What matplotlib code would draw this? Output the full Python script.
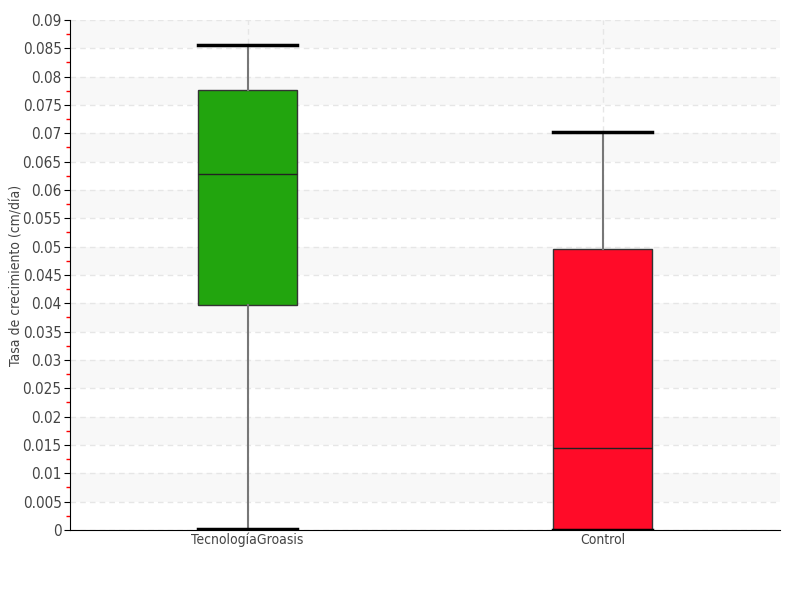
import numpy as np
import matplotlib
matplotlib.use("Agg")
import matplotlib.pyplot as plt

# data
groups = ["TecnologíaGroasis", "Control"]
whisker_low = [0.0002, 0.0]
q1 = [0.0397, 0.0]
medians = [0.0628, 0.0145]
q3 = [0.0776, 0.0496]
whisker_high = [0.0855, 0.0702]
box_colors = ["#22a50e", "#ff0b28"]

y_max = 0.09
y_step = 0.005

plt.rcParams["font.family"] = ["DejaVu Sans"]
plt.rcParams["font.stretch"] = "condensed"

fig = plt.figure(figsize=(8, 6), dpi=100)
ax = fig.add_axes([0.0875, 0.1167, 0.8875, 0.85])

# alternating bands
for lo in np.arange(y_step, y_max, 2 * y_step):
    ax.axhspan(lo, lo + y_step, color="#f8f8f8", zorder=0, lw=0)

stats = []
for i, name in enumerate(groups):
    stats.append(
        {
            "label": name,
            "whislo": whisker_low[i],
            "q1": q1[i],
            "med": medians[i],
            "q3": q3[i],
            "whishi": whisker_high[i],
            "fliers": [],
        }
    )

positions = np.arange(1, len(groups) + 1)
bp = ax.bxp(
    stats,
    positions=positions,
    widths=0.28,
    patch_artist=True,
    showfliers=False,
    whiskerprops=dict(color="#777777", lw=1.5),
    capprops=dict(color="black", lw=2.5),
    medianprops=dict(color="#222222", lw=1),
    capwidths=0.28,
    zorder=3,
)
for patch, c in zip(bp["boxes"], box_colors):
    patch.set_facecolor(c)
    patch.set_edgecolor("#333333")
    patch.set_linewidth(1)

ax.set_xlim(0.5, 2.5)
ax.set_ylim(0, y_max)
ticks = np.round(np.arange(0, y_max + y_step / 2, y_step), 3)
ax.set_yticks(ticks)
ax.set_yticklabels(["0" if t == 0 else ("%g" % t) for t in ticks])
ax.set_yticks(ticks[:-1] + y_step / 2, minor=True)
ax.tick_params(axis="y", which="minor", length=3, color="red", width=1)
ax.tick_params(axis="y", which="major", length=4, color="black", labelsize=11, labelcolor="#444444", pad=2)
ax.set_xticks(positions)
ax.set_xticklabels(groups)
ax.tick_params(axis="x", length=0, labelsize=10, labelcolor="#444444", pad=2)

ax.grid(True, axis="y", linestyle=(0, (4, 3)), color="#e6e6e6", lw=1, zorder=1)
ax.grid(True, axis="x", linestyle=(0, (4, 3)), color="#e6e6e6", lw=1, zorder=1)
ax.set_axisbelow(True)

for s in ["top", "right"]:
    ax.spines[s].set_visible(False)
ax.spines["left"].set_color("black")
ax.spines["bottom"].set_color("black")

ax.set_ylabel("Tasa de crecimiento (cm/día)", fontsize=10, color="#444444")
ax.yaxis.set_label_coords(-0.065, 0.5)

fig.savefig("out.png", dpi=100)
